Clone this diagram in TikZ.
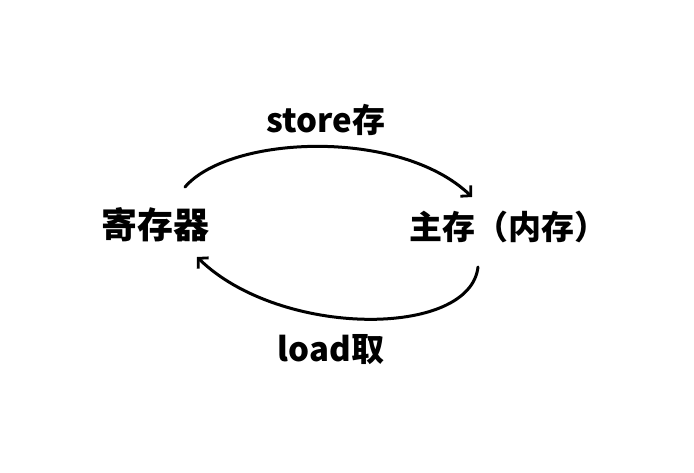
\documentclass[tikz,border=0pt]{standalone}
\usepackage{fontspec}
\setmainfont{Noto Sans CJK SC}
\usetikzlibrary{arrows.meta}
\tikzset{
  lbl/.style={inner sep=0pt, font=\fontsize{33}{35}\selectfont\bfseries},
  edgelbl/.style={inner sep=0pt, font=\fontsize{33}{35}\selectfont\bfseries},
  flow/.style={line width=3pt, line cap=round, -{Straight Barb[length=7pt,width=15pt,line width=2.8pt]}}
}
\begin{document}
\begin{tikzpicture}[x=1pt,y=-1pt]
\useasboundingbox (0,0) rectangle (694,473);
\node[lbl, font=\fontsize{36}{38}\selectfont\bfseries] (reg) at (155,225) {寄存器};
\node[lbl] (mem) at (508,227) {主存（内存）};
\node[edgelbl] (st) at (326,120) {store存};
\node[edgelbl] (ld) at (331,350) {load取};
\draw[flow] ([xshift=30pt,yshift=38pt]reg.center) .. controls +(45,-52) and +(-72,-69) .. ([xshift=-36pt,yshift=30pt]mem.center);
\draw[flow] ([xshift=-30pt,yshift=-40pt]mem.center) .. controls +(-8,71) and +(83,81) .. ([xshift=42pt,yshift=-32pt]reg.center);
\end{tikzpicture}
\end{document}
